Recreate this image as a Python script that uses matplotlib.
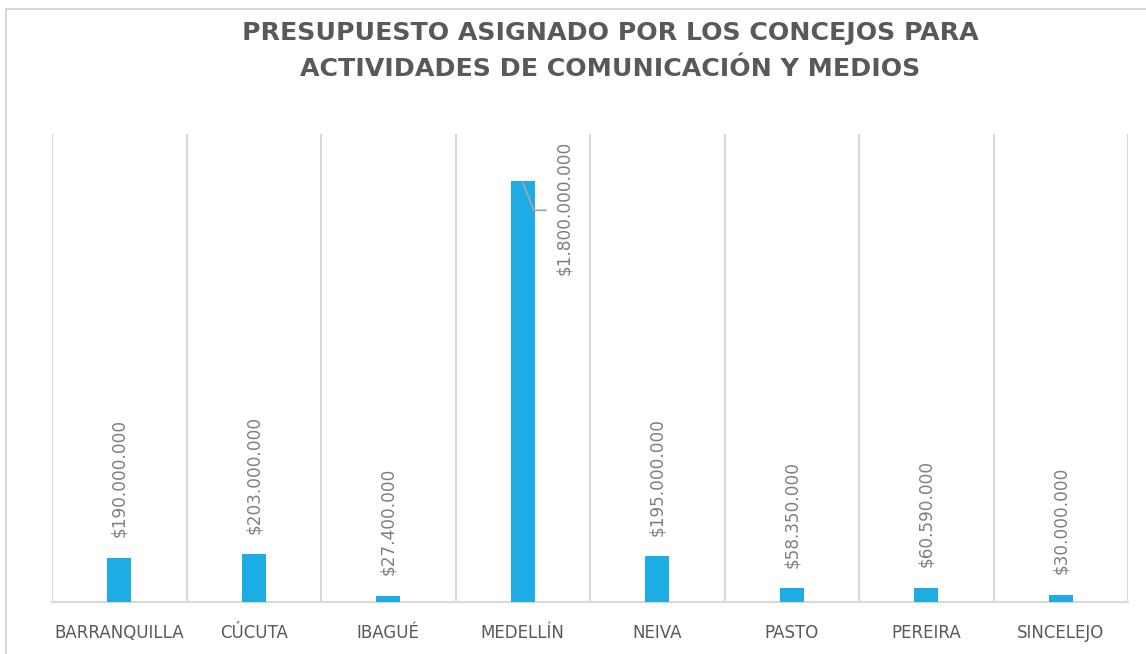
import matplotlib.pyplot as plt
from matplotlib.patches import Rectangle

# Datos
ciudades = ['BARRANQUILLA', 'CÚCUTA', 'IBAGUÉ', 'MEDELLÍN', 'NEIVA', 'PASTO', 'PEREIRA', 'SINCELEJO']
presupuesto = [190000000, 203000000, 27400000, 1800000000, 195000000, 58350000, 60590000, 30000000]
titulo = 'PRESUPUESTO ASIGNADO POR LOS CONCEJOS PARA\nACTIVIDADES DE COMUNICACIÓN Y MEDIOS'

color_barra = '#1DADE4'
gris_texto = '#595959'
gris_etiq = '#7F7F7F'
gris_linea = '#D9D9D9'
y_max = 2.0e9


def formato(v):
    return '$' + f'{v:,.0f}'.replace(',', '.')


fig = plt.figure(figsize=(11.46, 6.54), dpi=100)
ax = fig.add_axes([52 / 1146, 52 / 654, 1076 / 1146, 468 / 654])

# Borde del área del gráfico
fig.patches.append(Rectangle((5.5 / 1146, -0.05), 1.1, 1 - 9 / 654 + 0.05,
                             transform=fig.transFigure, fill=False,
                             edgecolor=gris_linea, linewidth=1.5))

x = list(range(len(ciudades)))
ax.bar(x, presupuesto, width=0.18, color=color_barra, zorder=3)

ax.set_xlim(-0.5, len(ciudades) - 0.5)
ax.set_ylim(0, y_max)

# Separadores verticales entre categorías
for k in range(len(ciudades) + 1):
    ax.axvline(k - 0.5, color=gris_linea, linewidth=1.5, zorder=1)

for s in ['top', 'left', 'right']:
    ax.spines[s].set_visible(False)
ax.spines['bottom'].set_color(gris_linea)
ax.spines['bottom'].set_linewidth(1.5)
ax.set_yticks([])
ax.set_xticks(x)
ax.set_xticklabels(ciudades, fontsize=12, color=gris_texto)
ax.tick_params(axis='x', length=0, pad=16)

# Etiquetas de datos
for i, v in enumerate(presupuesto):
    if v > 0.8 * y_max:
        ax.text(i + 0.31, y_max * 0.985, formato(v), rotation=90,
                ha='center', va='top', fontsize=12.2, color=gris_etiq)
        # línea guía
        ax.plot([i, i + 0.083, i + 0.17], [v * 0.995, v * 0.93, v * 0.93],
                color='#A6A6A6', linewidth=1.3, zorder=4)
    else:
        ax.annotate(formato(v), (i, v), xytext=(0, 15), textcoords='offset points',
                    rotation=90, ha='center', va='bottom', fontsize=12.2, color=gris_etiq)

fig.text(610 / 1146, 1 - 51 / 654, titulo, ha='center', va='center',
         fontsize=18.2, fontweight='bold', color=gris_texto, linespacing=1.65)

plt.savefig('out.png', dpi=100)
